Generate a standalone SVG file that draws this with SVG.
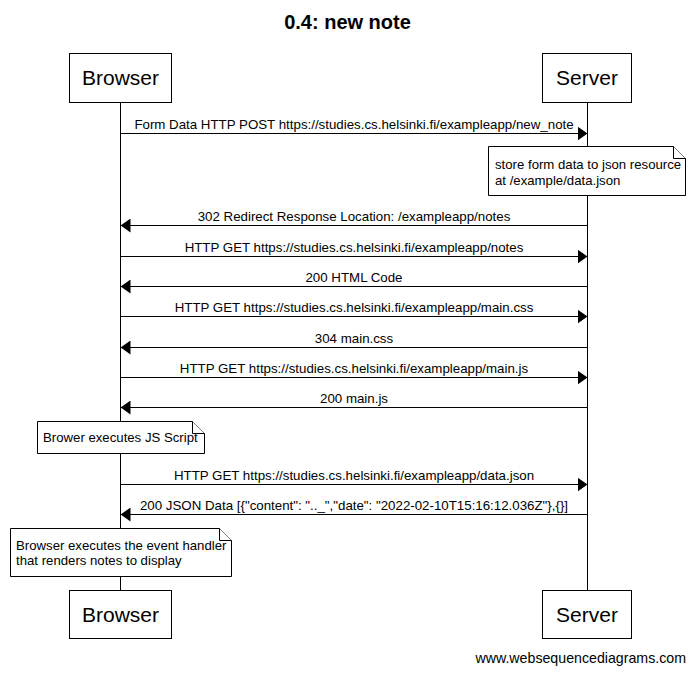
<svg xmlns="http://www.w3.org/2000/svg" width="695" height="673" viewBox="0 0 695 673">
<defs>
<style>
text{font-family:"Liberation Sans",Arial,sans-serif;fill:#000}
.box{fill:#fff;stroke:#000;stroke-width:1}
.life{stroke:#000;stroke-width:1;fill:none}
.msg{stroke:#000;stroke-width:1;fill:none}
.lbl{font-size:13.3px;text-anchor:middle}
.part{font-size:21px;text-anchor:middle}
.note{fill:#fff;stroke:#000;stroke-width:1}
.ntxt{font-size:13.2px}
.head{fill:#000}
</style>
<marker id="ar" viewBox="0 0 10 14" refX="10" refY="7" markerWidth="10" markerHeight="14" markerUnits="userSpaceOnUse" orient="auto">
<path d="M0,0 L10,7 L0,14 Z" class="head"/>
</marker>
</defs>
<rect width="695" height="673" fill="#fff"/>
<text x="347.5" y="29" font-size="20" font-weight="bold" text-anchor="middle">0.4: new note</text>
<g id="lifelines">
<line class="life" x1="120.5" y1="102" x2="120.5" y2="590"/>
<line class="life" x1="587.5" y1="102" x2="587.5" y2="590"/>
</g>
<g id="browser-top"><rect class="box" x="69.5" y="53.5" width="102" height="49"/><text class="part" x="120.5" y="85">Browser</text></g>
<g id="server-top"><rect class="box" x="542.5" y="53.5" width="89" height="49"/><text class="part" x="587" y="85">Server</text></g>
<g id="browser-bottom"><rect class="box" x="69.5" y="590.5" width="102" height="48"/><text class="part" x="120.5" y="622">Browser</text></g>
<g id="server-bottom"><rect class="box" x="542.5" y="590.5" width="89" height="48"/><text class="part" x="587" y="622">Server</text></g>
<g id="connectors">
<line class="msg" x1="120.5" y1="133.5" x2="587.5" y2="133.5" marker-end="url(#ar)"/>
<text class="lbl" x="354" y="129">Form Data HTTP POST https://studies.cs.helsinki.fi/exampleapp/new_note</text>
<line class="msg" x1="587.5" y1="225.5" x2="120.5" y2="225.5" marker-end="url(#ar)"/>
<text class="lbl" x="354" y="221">302 Redirect Response Location: /exampleapp/notes</text>
<line class="msg" x1="120.5" y1="256.5" x2="587.5" y2="256.5" marker-end="url(#ar)"/>
<text class="lbl" x="354" y="252">HTTP GET https://studies.cs.helsinki.fi/exampleapp/notes</text>
<line class="msg" x1="587.5" y1="286.5" x2="120.5" y2="286.5" marker-end="url(#ar)"/>
<text class="lbl" x="354" y="282">200 HTML Code</text>
<line class="msg" x1="120.5" y1="316.5" x2="587.5" y2="316.5" marker-end="url(#ar)"/>
<text class="lbl" x="354" y="312">HTTP GET https://studies.cs.helsinki.fi/exampleapp/main.css</text>
<line class="msg" x1="587.5" y1="347.5" x2="120.5" y2="347.5" marker-end="url(#ar)"/>
<text class="lbl" x="354" y="343">304 main.css</text>
<line class="msg" x1="120.5" y1="377.5" x2="587.5" y2="377.5" marker-end="url(#ar)"/>
<text class="lbl" x="354" y="373">HTTP GET https://studies.cs.helsinki.fi/exampleapp/main.js</text>
<line class="msg" x1="587.5" y1="407.5" x2="120.5" y2="407.5" marker-end="url(#ar)"/>
<text class="lbl" x="354" y="403">200 main.js</text>
<line class="msg" x1="120.5" y1="484.5" x2="587.5" y2="484.5" marker-end="url(#ar)"/>
<text class="lbl" x="354" y="480">HTTP GET https://studies.cs.helsinki.fi/exampleapp/data.json</text>
<line class="msg" x1="587.5" y1="514.5" x2="120.5" y2="514.5" marker-end="url(#ar)"/>
<text class="lbl" x="354" y="510">200 JSON Data [{"content": ".._","date": "2022-02-10T15:16:12.036Z"},{}]</text>
</g>
<g id="note-store">
<path class="note" d="M488.5,146.5 H673.5 L685.5,158.5 V195.5 H488.5 Z"/>
<path class="note" d="M673.5,146.5 V158.5 H685.5" fill="none"/>
<text class="ntxt" x="495" y="169">store form data to json resource</text>
<text class="ntxt" x="495" y="185">at /example/data.json</text>
</g>
<g id="note-js">
<path class="note" d="M37.5,421.5 H192.5 L204.5,433.5 V453.5 H37.5 Z"/>
<path class="note" d="M192.5,421.5 V433.5 H204.5" fill="none"/>
<text class="ntxt" x="43" y="442">Brower executes JS Script</text>
</g>
<g id="note-handler">
<path class="note" d="M10.5,528.5 H219.5 L231.5,540.5 V576.5 H10.5 Z"/>
<path class="note" d="M219.5,528.5 V540.5 H231.5" fill="none"/>
<text class="ntxt" x="16" y="550">Browser executes the event handler</text>
<text class="ntxt" x="16" y="565">that renders notes to display</text>
</g>
<text x="686" y="663" font-size="14.2" text-anchor="end">www.websequencediagrams.com</text>
</svg>
